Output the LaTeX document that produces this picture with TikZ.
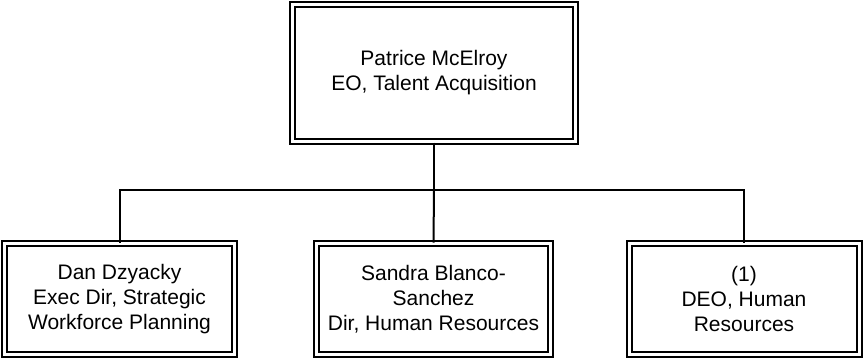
\documentclass[tikz,border=0pt]{standalone}
\usepackage{fontspec}
\setmainfont{Liberation Sans}
\usepackage{tikz}
\usetikzlibrary{positioning,calc}

\tikzset{
  unitbox/.style={draw, line width=2pt, double, double distance=3pt,
    align=center, inner sep=0pt, font=\fontsize{21}{25}\selectfont},
  bossbox/.style={unitbox, minimum width=283pt, minimum height=137pt},
  staffbox/.style={unitbox, minimum width=230pt, minimum height=111pt},
  link/.style={line width=2pt}
}

\begin{document}
\begin{tikzpicture}[x=1pt, y=-1pt]
\useasboundingbox (0,0) rectangle (865,360);
% ---------- top: the head of the unit
\node[bossbox] (head) at (434,73) {Patrice McElroy\\EO, Talent Acquisition};

% ---------- bottom row: direct reports
\node[staffbox] (dzyacky) at (119.5,299) {Dan Dzyacky\\Exec Dir, Strategic\\Workforce Planning};
\node[staffbox, minimum width=234pt] (blanco) at (433.5,299) {Sandra Blanco-\\Sanchez\\Dir, Human Resources};
\node[staffbox] (deo) at (744,299) {(1)\\DEO, Human\\Resources};

% ---------- connectors
\coordinate (bus) at (434,190);
\draw[link] (head.south) -- (bus);
\draw[link] (dzyacky.north) |- (bus) -| (deo.north);
\draw[link] (bus) -- (blanco.north);
\end{tikzpicture}
\end{document}
